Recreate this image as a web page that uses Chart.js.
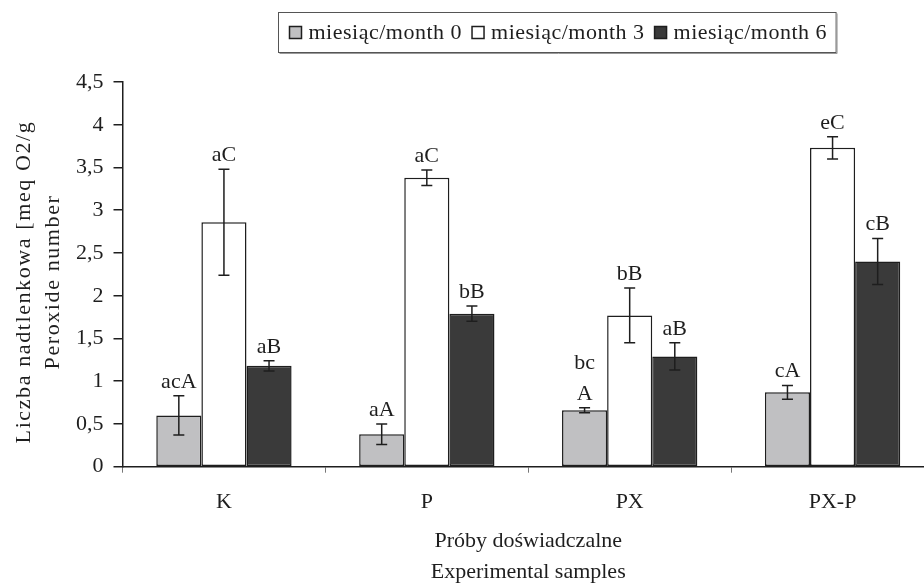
<!DOCTYPE html>
<html>
<head>
<meta charset="utf-8">
<script src="https://cdn.jsdelivr.net/npm/chart.js@4.4.1/dist/chart.umd.min.js"></script>
<style>
  html, body { margin: 0; padding: 0; overflow: hidden; background: #fff; }
  #c { display: block; width: 934px; height: 585px; }
</style>
</head>
<body>
<canvas id="c" width="934" height="585"></canvas>
<script>
// Peroxide number of the experimental samples after 0, 3 and 6 months
const categories = ['K', 'P', 'PX', 'PX-P'];
const seriesNames = ['miesiąc/month 0', 'miesiąc/month 3', 'miesiąc/month 6'];

const month0 = [0.60, 0.38, 0.66, 0.87];
const month3 = [2.86, 3.38, 1.77, 3.73];
const month6 = [1.18, 1.79, 1.29, 2.40];

// standard deviations
const err0 = [0.23, 0.12, 0.03, 0.08];
const err3 = [0.62, 0.09, 0.32, 0.13];
const err6 = [0.06, 0.09, 0.16, 0.27];

// significance letters (a line break is given as an array)
const letters0 = ['acA', 'aA', ['bc', 'A'], 'cA'];
const letters3 = ['aC', 'aC', 'bB', 'eC'];
const letters6 = ['aB', 'bB', 'aB', 'cB'];

const yTicks = [0, 0.5, 1, 1.5, 2, 2.5, 3, 3.5, 4, 4.5];
const yTitle = ['Liczba nadtlenkowa [meq O2/g', 'Peroxide number'];
const xTitle = ['Próby doświadczalne', 'Experimental samples'];

const FONT = 'Liberation Serif, Times New Roman, serif';
const INK = '#1e1e1e';
const fills = ['#c0c0c2', '#ffffff', '#3a3a3a'];

Chart.defaults.font.family = FONT;
Chart.defaults.color = INK;

const errors = [err0, err3, err6];
const letters = [letters0, letters3, letters6];

// whiskers for the standard deviation
const errorBars = {
  id: 'errorBars',
  afterDatasetsDraw(chart) {
    const ctx = chart.ctx;
    const y = chart.scales.y;
    ctx.save();
    ctx.strokeStyle = INK;
    ctx.lineWidth = 1.5;
    chart.data.datasets.forEach((ds, i) => {
      const meta = chart.getDatasetMeta(i);
      meta.data.forEach((bar, j) => {
        const v = ds.data[j], e = errors[i][j];
        const top = y.getPixelForValue(v + e);
        const bot = y.getPixelForValue(v - e);
        const half = 5.5;
        ctx.beginPath();
        ctx.moveTo(bar.x, top); ctx.lineTo(bar.x, bot);
        ctx.moveTo(bar.x - half, top); ctx.lineTo(bar.x + half, top);
        ctx.moveTo(bar.x - half, bot); ctx.lineTo(bar.x + half, bot);
        ctx.stroke();
      });
    });
    ctx.restore();
  }
};

// letters above the whiskers
const letterLabels = {
  id: 'letterLabels',
  afterDatasetsDraw(chart) {
    const ctx = chart.ctx;
    const y = chart.scales.y;
    ctx.save();
    ctx.font = '22px ' + FONT;
    ctx.fillStyle = INK;
    ctx.textAlign = 'center';
    ctx.textBaseline = 'alphabetic';
    chart.data.datasets.forEach((ds, i) => {
      const meta = chart.getDatasetMeta(i);
      meta.data.forEach((bar, j) => {
        const top = y.getPixelForValue(ds.data[j] + errors[i][j]);
        const lines = [].concat(letters[i][j]);
        let base = top - 8;
        for (let k = lines.length - 1; k >= 0; k--) {
          ctx.fillText(lines[k], bar.x, base);
          base -= 31;
        }
      });
    });
    ctx.restore();
  }
};

// rotated two-line title of the value axis, slightly letter-spaced
const valueTitle = {
  id: 'valueTitle',
  afterDraw(chart) {
    const ctx = chart.ctx;
    ctx.save();
    ctx.font = '22px ' + FONT;
    ctx.letterSpacing = '1.6px';
    ctx.fillStyle = INK;
    ctx.textAlign = 'center';
    ctx.textBaseline = 'middle';
    ctx.translate(24.5, 282);
    ctx.rotate(-Math.PI / 2);
    yTitle.forEach((t, k) => ctx.fillText(t, 0, k * 28.5));
    ctx.restore();
  }
};

// boxed legend above the plot
const boxLegend = {
  id: 'boxLegend',
  afterDraw(chart) {
    const ctx = chart.ctx;
    ctx.save();
    ctx.font = '22px ' + FONT;
    ctx.letterSpacing = '0.5px';
    const sq = 12, gapIn = 7, gapOut = 10, padL = 11, padR = 9;
    const widths = chart.data.datasets.map(d => ctx.measureText(d.label).width);
    const total = padL + padR + widths.reduce((a, w) => a + sq + gapIn + w, 0) + gapOut * (widths.length - 1);
    const cx = 557;
    const left = Math.round(cx - total / 2) + 0.5;
    const top = 12.5, bottom = 52.5, baseline = 38.5;
    ctx.fillStyle = '#fff';
    ctx.fillRect(left, top, total, bottom - top);
    ctx.strokeStyle = '#555';
    ctx.lineWidth = 1;
    ctx.strokeRect(left, top, total, bottom - top);
    ctx.strokeStyle = '#999';
    ctx.beginPath();
    ctx.moveTo(left + 1, bottom + 1); ctx.lineTo(left + total + 1, bottom + 1); ctx.lineTo(left + total + 1, top + 1);
    ctx.stroke();
    let x = left + padL;
    chart.data.datasets.forEach((d, i) => {
      ctx.fillStyle = d.backgroundColor;
      ctx.fillRect(x, baseline - sq, sq, sq);
      ctx.strokeStyle = INK;
      ctx.lineWidth = 1.5;
      ctx.strokeRect(x, baseline - sq, sq, sq);
      x += sq + gapIn;
      ctx.fillStyle = INK;
      ctx.textAlign = 'left';
      ctx.textBaseline = 'alphabetic';
      ctx.fillText(d.label, x, baseline);
      x += widths[i] + gapOut;
    });
    ctx.restore();
  }
};

const values = [month0, month3, month6];

new Chart(document.getElementById('c'), {
  type: 'bar',
  data: {
    labels: categories,
    datasets: values.map((v, i) => ({
      label: seriesNames[i],
      data: v,
      backgroundColor: fills[i],
      borderColor: INK,
      borderWidth: 1.5,
      borderSkipped: false,
      barPercentage: 1,
      categoryPercentage: 0.667
    }))
  },
  options: {
    responsive: false,
    animation: false,
    devicePixelRatio: 1,
    layout: { padding: { top: 82, right: 0, bottom: 0, left: 0 } },
    plugins: {
      legend: { display: false },
      tooltip: { enabled: false }
    },
    scales: {
      x: {
        grid: { offset: true, drawOnChartArea: false, tickLength: 6, color: '#777', lineWidth: 1 },
        border: { display: true, color: INK, width: 1.5 },
        ticks: { font: { size: 22 }, padding: 16, color: INK },
        title: {
          display: true,
          text: xTitle,
          font: { size: 22, lineHeight: 1.38 },
          padding: { top: 0, bottom: -2 },
          color: INK
        },
        afterFit(scale) { scale.height = 118.3; }
      },
      y: {
        min: 0,
        max: 4.5,
        afterBuildTicks(scale) { scale.ticks = yTicks.map(v => ({ value: v })); },
        grid: { drawOnChartArea: false, tickLength: 9, color: INK, lineWidth: 1.5 },
        border: { display: true, color: INK, width: 1.5 },
        ticks: {
          font: { size: 22 },
          padding: 10,
          color: INK,
          callback: v => String(v).replace('.', ',')
        },
        title: { display: false },
        afterFit(scale) { scale.width = 122.5; }
      }
    }
  },
  plugins: [errorBars, letterLabels, valueTitle, boxLegend]
});
</script>
</body>
</html>
